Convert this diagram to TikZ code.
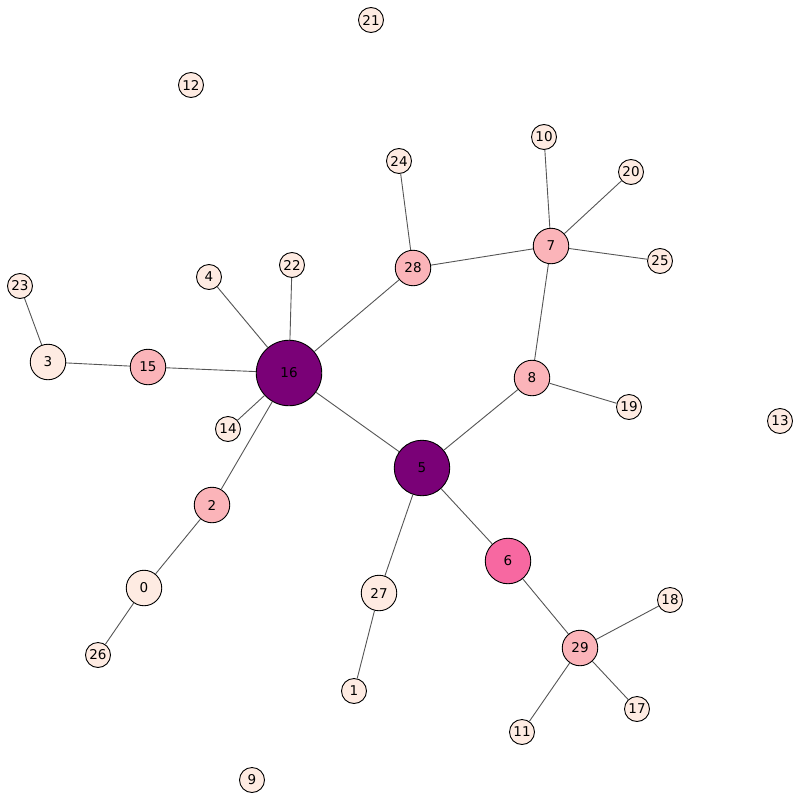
\documentclass[tikz,border=0pt]{standalone}
\usepackage{fontspec}
\setmainfont{DejaVu Sans}
\definecolor{cA}{HTML}{7A0177}
\definecolor{cB}{HTML}{F768A1}
\definecolor{cC}{HTML}{FBB4B9}
\definecolor{cD}{HTML}{FEEBE2}
\definecolor{edgec}{HTML}{555555}
\tikzset{
  vtx/.style={circle,draw=black,line width=0.9pt,inner sep=0pt,font=\fontsize{13.5}{13.5}\selectfont},
  vs/.style={vtx,fill=cD,minimum size=25pt},
  vm/.style={vtx,fill=cD,minimum size=35.5pt},
  vp/.style={vtx,fill=cC,minimum size=35.5pt},
  vh/.style={vtx,fill=cB,minimum size=45.5pt},
  vb/.style={vtx,fill=cA,minimum size=55.5pt},
  vbb/.style={vtx,fill=cA,minimum size=65.5pt},
  edge/.style={draw=edgec,line width=0.9pt}
}
\begin{document}
\begin{tikzpicture}[x=1pt,y=-1pt]
\useasboundingbox (0,0) rectangle (800,800);
\node[vbb] (n16) at (289,373) {16};
\node[vb] (n5) at (422,468) {5};
\node[vh] (n6) at (508,561) {6};
\node[vp] (n29) at (580,648) {29};
\node[vs] (n18) at (670,600) {18};
\node[vs] (n17) at (637,709) {17};
\node[vs] (n11) at (522,732) {11};
\node[vm] (n27) at (379,593) {27};
\node[vs] (n1) at (354,691) {1};
\node[vp] (n8) at (532,378) {8};
\node[vs] (n19) at (629,407) {19};
\node[vp] (n7) at (551,246) {7};
\node[vs] (n10) at (544,137) {10};
\node[vs] (n20) at (631,172) {20};
\node[vs] (n25) at (660,261) {25};
\node[vp] (n28) at (413,268) {28};
\node[vs] (n24) at (399,161) {24};
\node[vs] (n22) at (292,265) {22};
\node[vs] (n4) at (209,277) {4};
\node[vp] (n15) at (148,367) {15};
\node[vm] (n3) at (48,362) {3};
\node[vs] (n23) at (20,286) {23};
\node[vs] (n14) at (228,429) {14};
\node[vp] (n2) at (212,505) {2};
\node[vm] (n0) at (144,588) {0};
\node[vs] (n26) at (98,655) {26};
\node[vs] (n21) at (371,20) {21};
\node[vs] (n12) at (191,85) {12};
\node[vs] (n13) at (780,421) {13};
\node[vs] (n9) at (252,780) {9};
\path[edge] (n16) -- (n5);
\path[edge] (n16) -- (n28);
\path[edge] (n16) -- (n22);
\path[edge] (n16) -- (n4);
\path[edge] (n16) -- (n15);
\path[edge] (n16) -- (n14);
\path[edge] (n16) -- (n2);
\path[edge] (n15) -- (n3);
\path[edge] (n3) -- (n23);
\path[edge] (n2) -- (n0);
\path[edge] (n0) -- (n26);
\path[edge] (n5) -- (n8);
\path[edge] (n5) -- (n6);
\path[edge] (n5) -- (n27);
\path[edge] (n27) -- (n1);
\path[edge] (n6) -- (n29);
\path[edge] (n29) -- (n18);
\path[edge] (n29) -- (n17);
\path[edge] (n29) -- (n11);
\path[edge] (n8) -- (n19);
\path[edge] (n8) -- (n7);
\path[edge] (n7) -- (n28);
\path[edge] (n7) -- (n10);
\path[edge] (n7) -- (n20);
\path[edge] (n7) -- (n25);
\path[edge] (n28) -- (n24);
\end{tikzpicture}
\end{document}
